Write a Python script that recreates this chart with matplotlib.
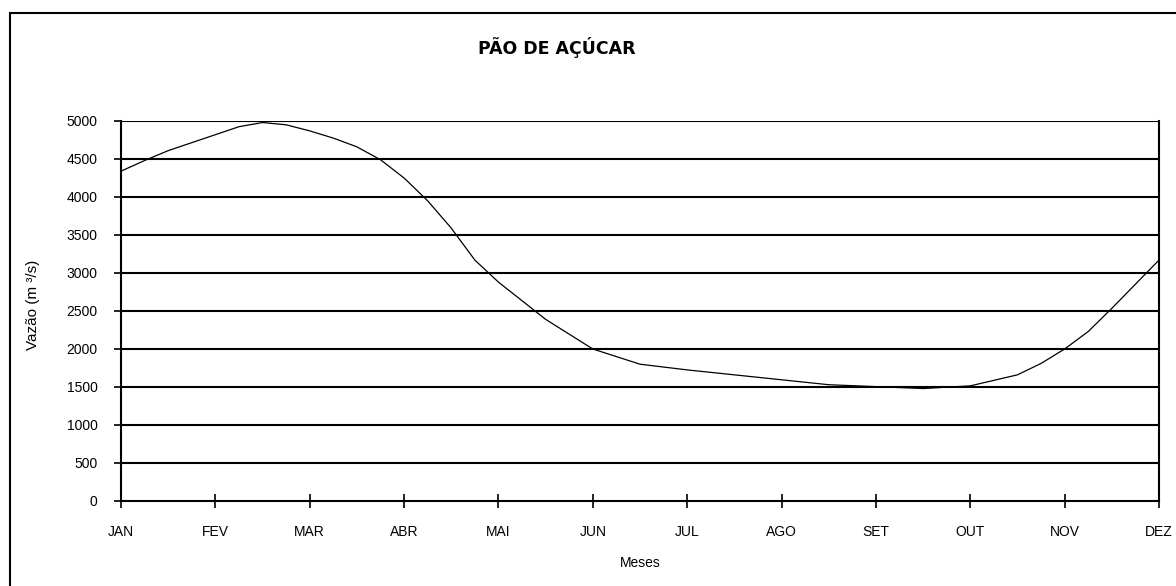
import matplotlib.pyplot as plt
from matplotlib.patches import Rectangle

MESES = ["JAN", "FEV", "MAR", "ABR", "MAI", "JUN", "JUL", "AGO", "SET", "OUT", "NOV", "DEZ"]

# posicao em meses (0 = JAN) e vazao
X_MES = [0, 0.25, 0.5, 1, 1.25, 1.5, 1.75, 2, 2.25, 2.5, 2.75, 3, 3.25, 3.5, 3.75, 4, 4.5,
         5, 5.5, 6, 6.5, 7, 7.5, 8, 8.5, 9, 9.5, 9.75, 10, 10.25, 10.5, 11]
VAZAO = [4340, 4480, 4610, 4820, 4925, 4980, 4950, 4870, 4775, 4660, 4490, 4250, 3950, 3590, 3170,
         2880, 2390, 2000, 1800, 1725, 1660, 1595, 1530, 1505, 1480, 1515, 1660, 1810, 2000,
         2230, 2535, 3170]

Y_TICKS = list(range(0, 5001, 500))

W, H = 1176, 586


def main():
    plt.rcParams['font.family'] = ['Liberation Sans', 'DejaVu Sans']
    fig = plt.figure(figsize=(W / 100, H / 100), dpi=100)

    # moldura (so as bordas de cima e da esquerda aparecem)
    fig.patches.append(Rectangle((10 / W, -0.1), 1.2, 1 - 12.5 / H + 0.1,
                                 transform=fig.transFigure, fill=False,
                                 edgecolor="black", linewidth=1.5))

    ax = fig.add_axes([121 / W, 1 - 501 / H, (1159 - 121) / W, (501 - 121) / H])
    ax.set_xlim(0, 11)
    ax.set_ylim(0, 5000)

    for v in Y_TICKS[1:]:
        ax.axhline(v, color="black", linewidth=1.5, zorder=1)

    ax.plot(X_MES, VAZAO, color="black", linewidth=0.9, zorder=3)

    ax.set_yticks(Y_TICKS)
    ax.set_yticklabels([str(v) for v in Y_TICKS], fontsize=10)
    ax.set_xticks(range(len(MESES)))
    ax.set_xticklabels(MESES, fontsize=10)

    ax.tick_params(axis="y", direction="out", length=5, width=1.2, pad=12)
    ax.tick_params(axis="x", direction="inout", length=10, width=1.2, pad=12)

    for s in ["left", "right", "bottom"]:
        ax.spines[s].set_linewidth(1.5)
    ax.spines["top"].set_visible(False)

    fig.text(557 / W, 1 - 47 / H, "PÃO DE AÇÚCAR", fontsize=12.5, fontweight="bold",
             family="DejaVu Sans", ha="center", va="center")
    fig.text(640 / W, 1 - 563 / H, "Meses", fontsize=10, ha="center", va="center")
    fig.text(33 / W, 1 - 305 / H, "Vazão (m ³/s)", fontsize=11, rotation=90,
             ha="center", va="center")

    fig.savefig("out.png", dpi=100)
    plt.close(fig)


if __name__ == "__main__":
    main()
